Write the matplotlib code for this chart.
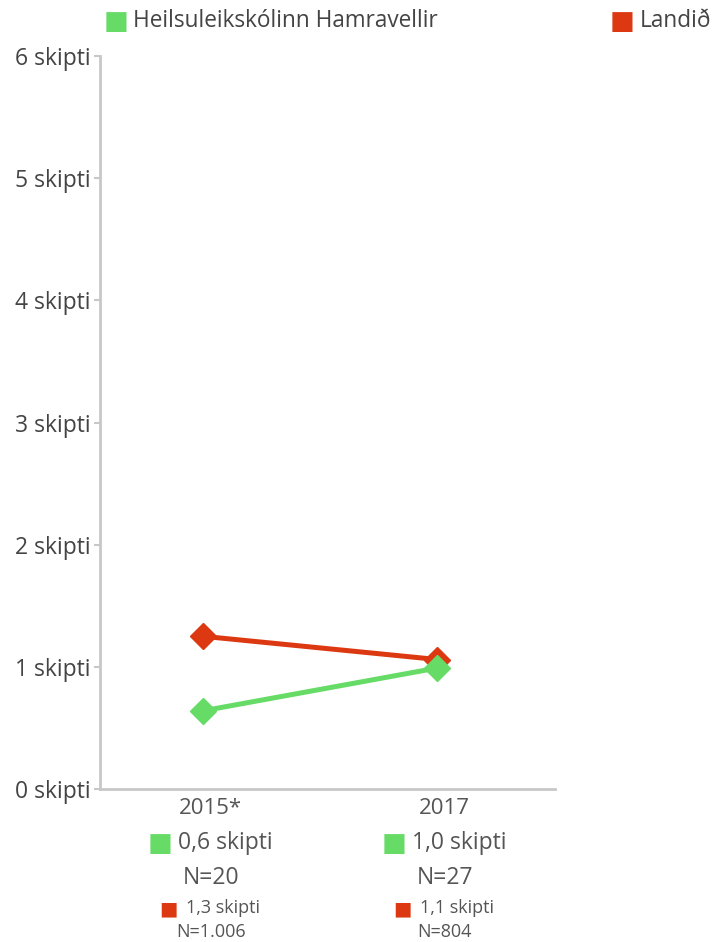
import matplotlib
matplotlib.use("Agg")
import matplotlib.pyplot as plt
import matplotlib.transforms as mtransforms

plt.rcParams["font.family"] = ["Open Sans", "DejaVu Sans"]

# Data
years = ["2015*", "2017"]
school_name = "Heilsuleikskólinn Hamravellir"
country_name = "Landið"
school_values = [0.64, 0.99]
country_values = [1.25, 1.06]
school_labels = ["0,6 skipti", "1,0 skipti"]
country_labels = ["1,3 skipti", "1,1 skipti"]
school_n = ["N=20", "N=27"]
country_n = ["N=1.006", "N=804"]
yticks = [0, 1, 2, 3, 4, 5, 6]

GREEN = "#66db66"
RED = "#dc3912"
TEXT = "#555555"
AXIS = "#c8c8c8"

fig = plt.figure(figsize=(7.18, 9.42), dpi=100)
ax = fig.add_axes([100 / 718, 1 - 789 / 942, 455 / 718, (789 - 56) / 942])

x = list(range(len(years)))
ax.plot(x, country_values, color=RED, lw=3.6, marker="D", markersize=13, zorder=3)
ax.plot(x, school_values, color=GREEN, lw=3.6, marker="D", markersize=13, zorder=4)

ax.set_xlim(-0.44, 1.504)
ax.set_ylim(0, 6)
ax.set_yticks(yticks)
ax.set_yticklabels([f"{v} skipti" for v in yticks], fontsize=16.5, color="#444444")
ax.set_xticks([])
ax.tick_params(axis="y", length=4, width=1.5, color=AXIS, pad=3)

for s in ["top", "right"]:
    ax.spines[s].set_visible(False)
for s in ["left", "bottom"]:
    ax.spines[s].set_color(AXIS)
    ax.spines[s].set_linewidth(2)

# Labels under each year
trans = mtransforms.blended_transform_factory(ax.transData, fig.transFigure)


def label(i, y_px, s, dx, size, color, ha="center", family=None):
    kw = {"family": family} if family else {}
    ax.annotate(s, xy=(i, 1 - y_px / 942), xycoords=trans, xytext=(dx, 0),
                textcoords="offset points", ha=ha, va="center",
                fontsize=size, color=color, **kw)


for i, yr in enumerate(years):
    label(i, 808, yr, 5.5, 16, TEXT)
    label(i, 844, "■", -31, 19, GREEN, family="DejaVu Sans")
    label(i, 843, school_labels[i], -18, 16.5, TEXT, ha="left")
    label(i, 878, school_n[i], 5.5, 16.5, TEXT)
    label(i, 909, "■", -25, 14, RED, family="DejaVu Sans")
    label(i, 908, country_labels[i], -12.5, 13, TEXT, ha="left")
    label(i, 932, country_n[i], 5.5, 13, TEXT)

# Legend on top
fig.text(116 / 718, 1 - 22 / 942, "■", color=GREEN, fontsize=19, ha="center", va="center",
         family="DejaVu Sans")
fig.text(133 / 718, 1 - 21 / 942, school_name, color="#444444", fontsize=16.3, ha="left", va="center")
fig.text(622 / 718, 1 - 22 / 942, "■", color=RED, fontsize=19, ha="center", va="center",
         family="DejaVu Sans")
fig.text(640 / 718, 1 - 21 / 942, country_name, color="#444444", fontsize=16.3, ha="left", va="center")

fig.savefig("out.png", dpi=100)
